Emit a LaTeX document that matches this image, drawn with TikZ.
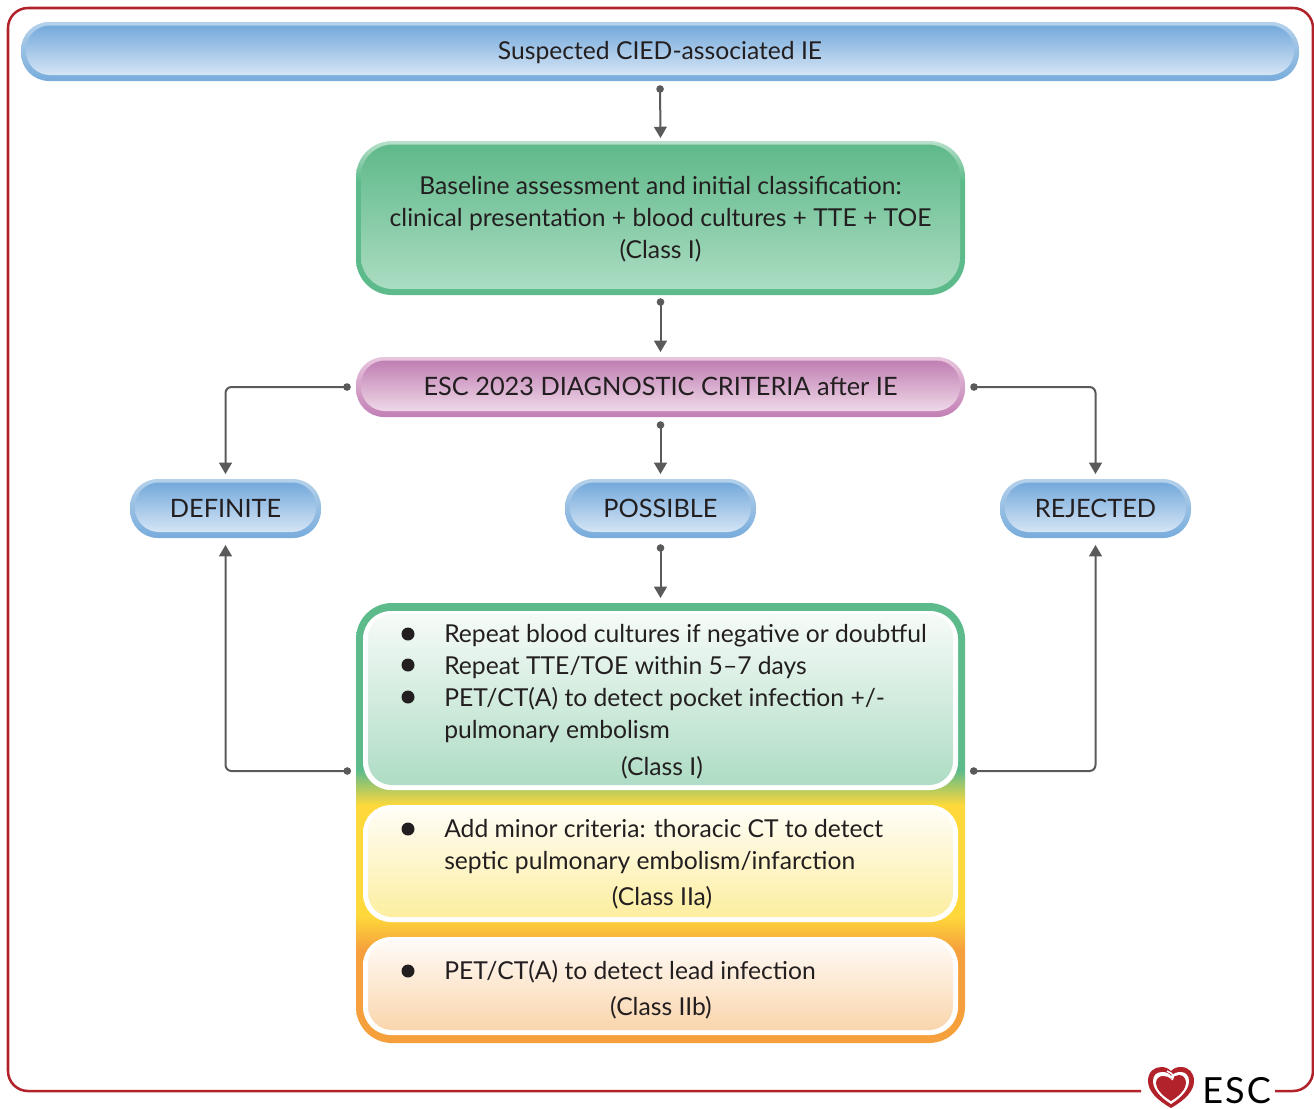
\documentclass[tikz,border=0pt]{standalone}
\usepackage{fontspec}
\setmainfont{Lato}
\newfontfamily\escfont[LetterSpace=6]{Lato}
\usetikzlibrary{arrows.meta}
\definecolor{ink}{HTML}{231F20}
\definecolor{conn}{HTML}{5A5A5A}
\definecolor{frame}{HTML}{B2222A}
\definecolor{bluelt}{HTML}{B5D1EA}
\definecolor{blueb}{HTML}{78ACDC}
\definecolor{bluetop}{HTML}{74A9DB}
\definecolor{bluebot}{HTML}{D5E5F5}
\definecolor{greenlt}{HTML}{B9E0CB}
\definecolor{greenb}{HTML}{5DBB8B}
\definecolor{greentop}{HTML}{5FB98A}
\definecolor{greenbot}{HTML}{ABDCC2}
\definecolor{purplelt}{HTML}{E8C6DE}
\definecolor{purpleb}{HTML}{C27FB5}
\definecolor{purpletop}{HTML}{C07FB3}
\definecolor{purplebot}{HTML}{EFD8E8}
\definecolor{panelorange}{HTML}{F5A03C}
\definecolor{panelyellow}{HTML}{FFD93B}
\definecolor{pgreentop}{HTML}{F6FBF8}
\definecolor{pgreenbot}{HTML}{AEDCC4}
\definecolor{pyellowtop}{HTML}{FFFDF6}
\definecolor{pyellowbot}{HTML}{FDEEA0}
\definecolor{porangetop}{HTML}{FFFBF7}
\definecolor{porangebot}{HTML}{FAD5AC}
\pgfdeclareverticalshading{panelshade}{100bp}{
  color(0bp)=(panelorange);
  color(35.6bp)=(panelorange);
  color(39.5bp)=(panelyellow);
  color(52bp)=(panelyellow);
  color(56bp)=(greenb);
  color(100bp)=(greenb)}
\pgfdeclareverticalshading{greenring}{100bp}{
  color(0bp)=(greenb);
  color(62bp)=(greenb);
  color(75bp)=(greenlt);
  color(100bp)=(greenlt)}
\newcommand{\mainsize}{\fontsize{18.5}{24}\selectfont}
\newcommand{\capsize}{\fontsize{19}{24}\selectfont}
\tikzset{
  label text/.style={text=ink,font=\mainsize,align=center,inner sep=0pt,yshift=-1.1pt},
  caps text/.style={text=ink,font=\capsize,align=center,inner sep=0pt,yshift=0.3pt},
  list text/.style={text=ink,font=\mainsize,align=left,inner sep=0pt,anchor=base west},
  class text/.style={text=ink,font=\mainsize,inner sep=0pt,anchor=base},
  bulletdot/.style={circle,fill=ink,inner sep=0pt,minimum size=9.75pt},
  linkline/.style={draw=conn,line width=1.5pt,rounded corners=4.5pt,
    arrows={Circle[length=5.6pt,width=5.6pt]-Triangle[length=8.5pt,width=9.5pt]}},
  frameline/.style={draw=frame,line width=1.9pt,rounded corners=15pt},
  ringblue/.style={top color=bluelt,middle color=blueb,bottom color=blueb},
  ringpurple/.style={top color=purplelt,middle color=purpleb,bottom color=purpleb},
  ringgreen/.style={shading=greenring},
}
% x1 y1 x2 y2 radius(pt) name ring-style top bottom; text style and text in macros
\newcommand{\pillbox}[9]{%
  \path[rounded corners=#5pt,#7] (#1,#2) rectangle (#3,#4);
  \path[rounded corners=#5pt-3pt,top color=#8,bottom color=#9]
    (#1+5,#2+3.5) rectangle (#3-5,#4-6);
  \node[inner sep=0pt,minimum width={(#3-#1)*0.75pt},minimum height={(#4-#2)*0.75pt},
    label={[\pillstyle]center:{\pilltxt}}]
    (#6) at ({(#1+#3)/2},{(#2+#4)/2}) {};
}
\newcommand{\panelbox}[6]{%
  \path[rounded corners=21pt,fill=white] (#1,#2) rectangle (#3,#4);
  \path[rounded corners=18pt,top color=#5,bottom color=#6] (#1+5,#2+3) rectangle (#3-5,#4-5);
}
\begin{document}
\begin{tikzpicture}[x=0.75pt,y=-0.75pt]
\useasboundingbox (0,0) rectangle (1314,1108);
% frame
\draw[frameline] (1141,1091) -- (8,1091) -- (8,8) -- (1313,8) -- (1313,1091) -- (1275,1091);
% pills
\def\pillstyle{label text}
\def\pilltxt{Suspected CIED-associated IE}
\pillbox{21}{22}{1299}{81}{21}{top}{ringblue}{bluetop}{bluebot}
\def\pilltxt{Baseline assessment and initial classification:\\clinical presentation + blood cultures + TTE + TOE\\(Class I)}
\pillbox{356}{141}{965}{295}{27}{base}{ringgreen}{greentop}{greenbot}
\def\pillstyle{caps text}
\def\pilltxt{ESC 2023 DIAGNOSTIC CRITERIA after IE}
\pillbox{356}{357}{965}{417}{21}{criteria}{ringpurple}{purpletop}{purplebot}
\def\pilltxt{DEFINITE}
\pillbox{130}{479}{321}{538}{21}{definite}{ringblue}{bluetop}{bluebot}
\def\pilltxt{POSSIBLE}
\pillbox{565}{479}{756}{538}{21}{possible}{ringblue}{bluetop}{bluebot}
\def\pilltxt{REJECTED}
\pillbox{1000}{479}{1191}{538}{21}{rejected}{ringblue}{bluetop}{bluebot}
% panel
\path[rounded corners=27pt,shading=panelshade] (356,603) rectangle (965,1043);
\node[minimum width=456.75pt,minimum height=330pt,inner sep=0pt] (panel) at (660.5,823) {};
\panelbox{363}{611}{958}{790}{pgreentop}{pgreenbot}
\panelbox{363}{805}{958}{922}{pyellowtop}{pyellowbot}
\panelbox{363}{937}{958}{1035}{porangetop}{porangebot}
% panel texts
\node[bulletdot] (b1) at (408,634) {};
\node[bulletdot] (b2) at (408,665) {};
\node[bulletdot] (b3) at (408,697) {};
\node[list text] (t1) at (444,642) {Repeat blood cultures if negative or doubtful};
\node[list text] (t2) at (444,674) {Repeat TTE/TOE within 5--7 days};
\node[list text] (t3) at (444,706) {PET/CT(A) to detect pocket infection +/-};
\node[list text] (t4) at (444,738) {pulmonary embolism};
\node[class text] (c1) at (662,775) {(Class I)};
\node[bulletdot] (b4) at (408,829) {};
\node[list text] (t5) at (444,837) {Add minor criteria: thoracic CT to detect};
\node[list text] (t6) at (444,869) {septic pulmonary embolism/infarction};
\node[class text] (c2) at (662,905) {(Class IIa)};
\node[bulletdot] (b5) at (408,971) {};
\node[list text] (t7) at (444,979) {PET/CT(A) to detect lead infection};
\node[class text] (c3) at (661,1015) {(Class IIb)};
% connectors
\coordinate (panelL) at (356,771);
\coordinate (panelR) at (965,771);
\draw[linkline,shorten <=3pt,shorten >=2pt] (top.south) -- (base.north);
\draw[linkline,shorten <=2.25pt,shorten >=3.5pt] (base.south) -- (criteria.north);
\draw[linkline,shorten <=3pt,shorten >=3.5pt] (criteria.south) -- (possible.north);
\draw[linkline,shorten <=4.5pt,shorten >=3.5pt] (possible.south) -- (panel.north);
\draw[linkline,shorten <=3.75pt,shorten >=3.5pt] (criteria.west) -| (definite.north);
\draw[linkline,shorten <=3.75pt,shorten >=3.5pt] (criteria.east) -| (rejected.north);
\draw[linkline,shorten <=3.75pt,shorten >=5pt] (panelL) -| (definite.south);
\draw[linkline,shorten <=3.75pt,shorten >=5pt] (panelR) -| (rejected.south);
% logo
\path[fill=frame] (1171,1108) .. controls (1157,1100) and (1148,1091) .. (1148,1081)
  .. controls (1148,1072) and (1154,1067) .. (1161,1067)
  .. controls (1165,1067) and (1168,1068) .. (1171,1071)
  .. controls (1174,1068) and (1177,1067) .. (1181,1067)
  .. controls (1189,1067) and (1194,1073) .. (1194,1081)
  .. controls (1194,1091) and (1185,1100) .. (1171,1108) -- cycle;
\path[fill=white] (1171,1104) .. controls (1160,1097) and (1153,1089) .. (1153,1081)
  .. controls (1153,1075) and (1157,1072) .. (1162,1072)
  .. controls (1166,1072) and (1169,1073) .. (1171,1076)
  .. controls (1174,1073) and (1177,1072) .. (1181,1072)
  .. controls (1186,1072) and (1189,1076) .. (1189,1081)
  .. controls (1189,1089) and (1182,1097) .. (1171,1104) -- cycle;
\path[fill=frame] (1171,1101) .. controls (1161,1095) and (1156,1088) .. (1156,1083)
  .. controls (1156,1078) and (1160,1076) .. (1163,1076)
  .. controls (1166,1076) and (1169,1077) .. (1171,1079)
  .. controls (1173,1077) and (1176,1075) .. (1179,1075)
  .. controls (1183,1075) and (1186,1078) .. (1186,1083)
  .. controls (1186,1088) and (1181,1095) .. (1171,1101) -- cycle;
\draw[white,line width=1.2pt] (1167,1071) .. controls (1172,1073) and (1175,1076) .. (1172,1080);
\node[inner sep=0pt,anchor=base west,text=black,font=\escfont\fontsize{27}{30}\selectfont] (esc) at (1202,1103) {ESC};
\end{tikzpicture}
\end{document}
